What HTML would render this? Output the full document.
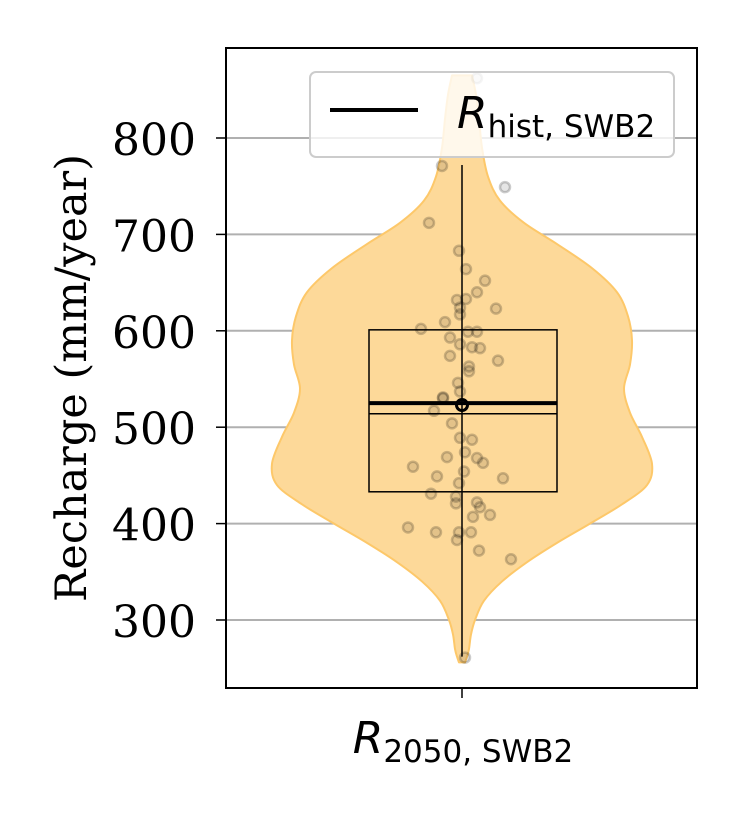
<!DOCTYPE html>
<html><head><meta charset="utf-8"><style>
body{margin:0;background:#fff}
svg text{font-family:"DejaVu Serif","Liberation Serif",serif}
</style></head><body>
<svg id="chart" width="747" height="826" viewBox="0 0 747 826" xmlns="http://www.w3.org/2000/svg">
<g id="grid"></g>
<g id="violin"></g>
<g id="box"></g>
<g id="pts"></g>
<rect x="226" y="48" width="471" height="640" fill="none" stroke="#000" stroke-width="2"/>
<g id="yticks"></g>
<line x1="462" y1="688" x2="462" y2="698" stroke="#000" stroke-width="1.5"/>
<text x="463" y="753" text-anchor="middle" font-size="44" style="font-family:'DejaVu Sans',sans-serif"><tspan font-style="italic">R</tspan><tspan font-size="31" dy="9">2050, SWB2</tspan></text>
<text transform="translate(86,378) rotate(-90)" text-anchor="middle" font-size="43">Recharge (mm/year)</text>
<g>
<rect x="310" y="72" width="364" height="85" rx="6" fill="#fff" fill-opacity="0.8" stroke="#ccc" stroke-width="2"/>
<line x1="330" y1="110" x2="418" y2="110" stroke="#000" stroke-width="4"/>
<text x="457" y="128" font-size="44" style="font-family:'DejaVu Sans',sans-serif"><tspan font-style="italic">R</tspan><tspan font-size="31" dy="9">hist, SWB2</tspan></text>
</g>
</svg>
<script>
const yTicks=[300,400,500,600,700,800];
const values=[862,771,749,712,683,664,652,640,632,633,624,623,609,602,617,599,599,593,586,583,582,574,569,563,558,546,537,531,530,517,504,489,487,469,474,468,463,459,449,454,447,442,431,428,421,422,417,409,407,396,391,391,391,383,372,363,261];
const jitter=[15,-20,43,-33,-3,4,23,15,-5,4,-2,34,-17,-41,-2,6,15,-12,-2,10,18,-12,36,7,7,-4,-2,-19,-19,-28,-10,-2,10,-15,3,15,21,-49,-25,2,41,-3,-31,-6,-6,15,18,28,11,-54,-26,-3,9,-5,17,49,3];
const violinLevels=[865,845,820,790,760,735,712,690,665,640,615,590,565,540,515,490,462,440,420,400,380,360,340,320,300,285,270,262,256];
const violinHalf=[10,14,17,20,26,38,62,95,130,155,166,170,168,162,168,180,190,185,160,128,95,65,40,22,13,9,7,5,3];
const boxStats={q1:433,med:514,q3:601,lo:262,hi:772,mean:523};
const hist=525;
const y=v=>620-(v-300)*0.964, cx=462;
const NS='http://www.w3.org/2000/svg';
function mk(t,a,p){const e=document.createElementNS(NS,t);for(const k in a)e.setAttribute(k,a[k]);p.appendChild(e);return e;}
const G=id=>document.getElementById(id);
yTicks.forEach(t=>{
 const l=mk('line',{x1:226,x2:697,y1:y(t),y2:y(t),stroke:'#b0b0b0','stroke-width':2},G('grid'));
 
 
 const k=mk('line',{x1:216,x2:226,y1:y(t),y2:y(t),stroke:'#000','stroke-width':1.5},G('yticks'));
 
 
 const tx=mk('text',{x:196,y:y(t)+17,'text-anchor':'end','font-size':44},G('yticks'));
 tx.textContent=t;
 
 
});
function smooth(pts){
 let d='M'+pts[0][0]+','+pts[0][1];
 for(let i=0;i<pts.length-1;i++){
  const p0=pts[i-1]||pts[i],p1=pts[i],p2=pts[i+1],p3=pts[i+2]||p2;
  const c1=[p1[0]+(p2[0]-p0[0])/6,p1[1]+(p2[1]-p0[1])/6];
  const c2=[p2[0]-(p3[0]-p1[0])/6,p2[1]-(p3[1]-p1[1])/6];
  d+='C'+c1[0]+','+c1[1]+' '+c2[0]+','+c2[1]+' '+p2[0]+','+p2[1];
 }
 return d;
}
const right=violinLevels.map((v,i)=>[cx+violinHalf[i],y(v)]);
const left=violinLevels.map((v,i)=>[cx-violinHalf[i],y(v)]).reverse();
const dpath=smooth(right)+'L'+smooth(left).slice(1)+'Z';
const vp=mk('path',{d:dpath,fill:'#fdd999',stroke:'#fdc86a','stroke-width':2,'stroke-linejoin':'round'},G('violin'));


const b=G('box');
const wh=mk('line',{x1:cx,x2:cx,y1:y(boxStats.lo),y2:y(boxStats.hi),stroke:'#000','stroke-width':1.5},b);


const br=mk('rect',{x:369,width:188,y:y(boxStats.q3),height:y(boxStats.q1)-y(boxStats.q3),fill:'none',stroke:'#000','stroke-width':1.5},b);


const md=mk('line',{x1:369,x2:557,y1:y(boxStats.med),y2:y(boxStats.med),stroke:'#000','stroke-width':1.5},b);


const hl=mk('line',{x1:369,x2:557,y1:y(hist),y2:y(hist),stroke:'#000','stroke-width':4},b);


values.forEach((v,i)=>{
 const c=mk('circle',{cx:cx+jitter[i],cy:y(v),r:5,fill:'#000','fill-opacity':0.1,stroke:'#000','stroke-opacity':0.2,'stroke-width':2.5},G('pts'));
 
 
});
const mc=mk('circle',{cx:cx,cy:y(boxStats.mean),r:5.5,fill:'none',stroke:'#000','stroke-width':3},G('pts'));


</script>
</body></html>
